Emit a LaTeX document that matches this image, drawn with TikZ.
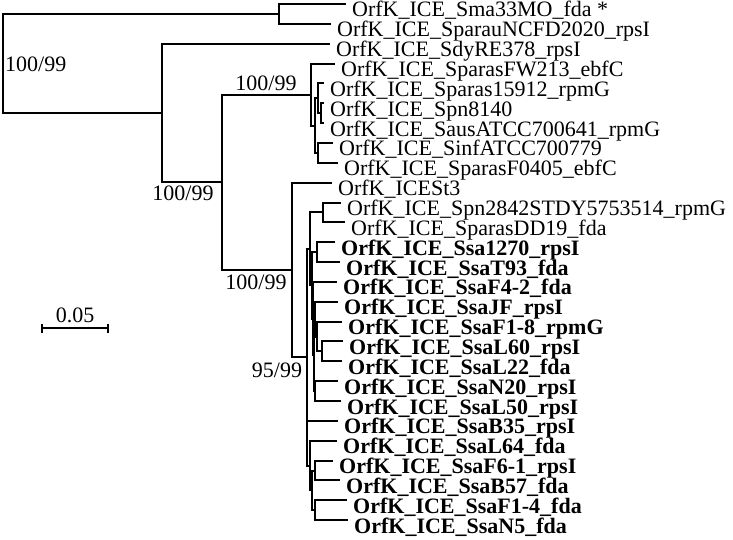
\documentclass[tikz,border=0pt]{standalone}
\usepackage{fontspec}
\setmainfont{Liberation Serif}
\newcommand{\leafnode}[6]{%
  \coordinate (l#1) at (#3,#4);
  \draw[br] (#2) |- (l#1);
  \node[#5] (t#1) at ({#3+6},{#4+13}) {#6};
}
\begin{document}
\begin{tikzpicture}[x=1pt,y=-1pt,
  br/.style={line width=2pt},
  lf/.style={anchor=base west, inner sep=0pt, font=\fontsize{22}{22}\selectfont},
  lfb/.style={lf, font=\fontsize{22}{22}\selectfont\bfseries},
  bs/.style={inner sep=0pt, font=\fontsize{22}{22}\selectfont}]
\useasboundingbox (0,0) rectangle (733,540);
% internal nodes
\coordinate (root) at (3,63.5);
\coordinate (X) at (279,13.9);
\coordinate (Y) at (162,113);
\coordinate (Z) at (222,182.3);
\coordinate (A) at (311,94.6);
\coordinate (B) at (315,125.6);
\coordinate (C) at (318,98.3);
\coordinate (D) at (321,113.2);
\coordinate (E) at (318,152.9);
\coordinate (W) at (292,269.9);
\coordinate (V) at (307,357.2);
\coordinate (T) at (310,248.9);
\coordinate (Q) at (323,212.4);
\coordinate (U) at (312,285.3);
\coordinate (R1) at (317,252.1);
\coordinate (U2) at (313,318.5);
\coordinate (U3) at (314,355.1);
\coordinate (U4) at (315,319.1);
\coordinate (U5) at (317,336.5);
\coordinate (R2) at (322,351.4);
\coordinate (R3) at (315,391.1);
\coordinate (S1) at (310,465.5);
\coordinate (S2) at (312,490.3);
\coordinate (R4) at (315,470.5);
\coordinate (R5) at (315,510.2);
% internal edges
\draw[br] (root) |- (X);
\draw[br] (root) |- (Y);
\draw[br] (Y) |- (Z);
\draw[br] (Z) |- (A);
\draw[br] (Z) |- (W);
\draw[br] (A) |- (B);
\draw[br] (B) |- (C);
\draw[br] (B) |- (E);
\draw[br] (C) |- (D);
\draw[br] (W) |- (V);
\draw[br] (V) |- (T);
\draw[br] (V) |- (S1);
\draw[br] (T) |- (Q);
\draw[br] (T) |- (U);
\draw[br] (U) |- (R1);
\draw[br] (U) |- (U2);
\draw[br] (U2) |- (U3);
\draw[br] (U3) |- (U4);
\draw[br] (U3) |- (R3);
\draw[br] (U4) |- (U5);
\draw[br] (U5) |- (R2);
\draw[br] (S1) |- (S2);
\draw[br] (S2) |- (R4);
\draw[br] (S2) |- (R5);
% leaves
\leafnode{0}{X}{346}{4}{lf}{OrfK\_ICE\_Sma33MO\_fda *}
\leafnode{1}{X}{331}{23.85}{lf}{OrfK\_ICE\_SparauNCFD2020\_rpsI}
\leafnode{2}{Y}{330}{43.7}{lf}{OrfK\_ICE\_SdyRE378\_rpsI}
\leafnode{3}{A}{335}{63.55}{lf}{OrfK\_ICE\_SparasFW213\_ebfC}
\leafnode{4}{C}{324}{83.4}{lf}{OrfK\_ICE\_Sparas15912\_rpmG}
\leafnode{5}{D}{324}{103.25}{lf}{OrfK\_ICE\_Spn8140}
\leafnode{6}{D}{324}{123.1}{lf}{OrfK\_ICE\_SausATCC700641\_rpmG}
\leafnode{7}{E}{333}{142.95}{lf}{OrfK\_ICE\_SinfATCC700779}
\leafnode{8}{E}{338}{162.8}{lf}{OrfK\_ICE\_SparasF0405\_ebfC}
\leafnode{9}{W}{332}{182.65}{lf}{OrfK\_ICESt3}
\leafnode{10}{Q}{341}{202.5}{lf}{OrfK\_ICE\_Spn2842STDY5753514\_rpmG}
\leafnode{11}{Q}{345}{222.35}{lf}{OrfK\_ICE\_SparasDD19\_fda}
\leafnode{12}{R1}{335}{242.2}{lfb}{OrfK\_ICE\_Ssa1270\_rpsI}
\leafnode{13}{R1}{340}{262.05}{lfb}{OrfK\_ICE\_SsaT93\_fda}
\leafnode{14}{U2}{337}{281.9}{lfb}{OrfK\_ICE\_SsaF4-2\_fda}
\leafnode{15}{U4}{338}{301.75}{lfb}{OrfK\_ICE\_SsaJF\_rpsI}
\leafnode{16}{U5}{342}{321.6}{lfb}{OrfK\_ICE\_SsaF1-8\_rpmG}
\leafnode{17}{R2}{343}{341.45}{lfb}{OrfK\_ICE\_SsaL60\_rpsI}
\leafnode{18}{R2}{342}{361.3}{lfb}{OrfK\_ICE\_SsaL22\_fda}
\leafnode{19}{R3}{338}{381.15}{lfb}{OrfK\_ICE\_SsaN20\_rpsI}
\leafnode{20}{R3}{341}{401}{lfb}{OrfK\_ICE\_SsaL50\_rpsI}
\leafnode{21}{V}{338}{420.85}{lfb}{OrfK\_ICE\_SsaB35\_rpsI}
\leafnode{22}{S1}{337}{440.7}{lfb}{OrfK\_ICE\_SsaL64\_fda}
\leafnode{23}{R4}{333}{460.55}{lfb}{OrfK\_ICE\_SsaF6-1\_rpsI}
\leafnode{24}{R4}{340}{480.4}{lfb}{OrfK\_ICE\_SsaB57\_fda}
\leafnode{25}{R5}{347}{500.25}{lfb}{OrfK\_ICE\_SsaF1-4\_fda}
\leafnode{26}{R5}{348}{520.1}{lfb}{OrfK\_ICE\_SsaN5\_fda}
% bootstrap labels
\node[bs, anchor=west] (b1) at (5,64) {100/99};
\node[bs, anchor=south] (b2) at (266,91) {100/99};
\node[bs, anchor=north] (b3) at (183,186) {100/99};
\node[bs, anchor=north] (b4) at (256,275) {100/99};
\node[bs, anchor=north] (b5) at (277,363) {95/99};
% scale bar
\coordinate (sbl) at (42,328);
\coordinate (sbr) at (108,328);
\draw[line width=1.6pt] (sbl) -- (sbr);
\draw[line width=1.6pt] ([yshift=4.5pt]sbl) -- ([yshift=-4.5pt]sbl);
\draw[line width=1.6pt] ([yshift=4.5pt]sbr) -- ([yshift=-4.5pt]sbr);
\node[bs, anchor=south] (sb) at (75,323) {0.05};
\end{tikzpicture}
\end{document}
